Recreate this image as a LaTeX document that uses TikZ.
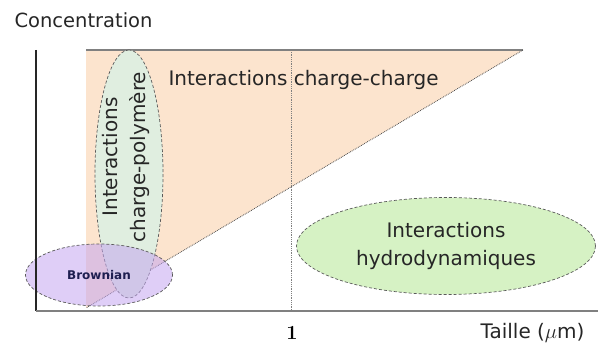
\documentclass[tikz,border=0pt]{standalone}
\usepackage{fontspec}
\usepackage{tikz}
\usetikzlibrary{shapes.geometric}
\newfontfamily\verdana{DejaVu Sans}
\definecolor{zonepeach}{RGB}{252, 228, 206}
\definecolor{zonegrey}{RGB}{224, 238, 224}
\definecolor{zonegreen}{RGB}{214, 242, 196}
\definecolor{zonepurple}{RGB}{196, 166, 240}
\definecolor{labelnavy}{RGB}{30, 30, 80}

\begin{document}
\begin{tikzpicture}[
    x=1pt, y=-1pt,
    zone/.style={ellipse, draw=black!65, dash pattern=on 3pt off 2pt, line width=0.7pt, fill=#1, inner sep=0pt, align=center},
    every node/.style={font=\verdana\fontsize{20}{28}\selectfont, text=black!85}
]
\useasboundingbox (0, 0) rectangle (598, 345);

% Charge-charge region
\fill[zonepeach] (86, 50) -- (523, 50) -- (86, 308) -- cycle;
\draw[gray, line width=1.6pt] (86, 50) -- (523, 50);
\draw[black!70, densely dotted, line width=0.8pt] (523, 50) -- (86, 308);
\draw[gray, densely dotted, line width=0.8pt] (291, 50) -- (291, 311);

% Zones
\node[zone=zonegrey, rotate=90, minimum width=248pt, minimum height=68pt] (polyzone) at (129, 174) {};
\node[rotate=90, align=center] (polylabel) at (126, 157) {Interactions\\charge-polymère};

\node[zone=zonegreen, minimum width=299pt, minimum height=97pt] (hydrozone) at (446, 246) {Interactions\\hydrodynamiques};

\node[zone=zonepurple, fill opacity=0.55, text opacity=1, minimum width=147pt, minimum height=62pt,
      font=\verdana\bfseries\fontsize{12}{14}\selectfont, text=labelnavy] (brownzone) at (99, 275) {Brownian};

\node[anchor=west] (chargelabel) at (165, 80) {Interactions charge-charge};

% Axes
\draw[black!85, line width=1.1pt] (36, 50) -- (36, 311);
\draw[gray, line width=2pt] (36, 311) -- (598, 311);

\node[anchor=west, font=\verdana\fontsize{19.5}{24}\selectfont] (ylabel) at (11, 20) {Concentration};
\node[anchor=east] (xlabel) at (588, 333) {Taille ($\mu$m)};
\node[font=\rmfamily\bfseries\fontsize{20}{22}\selectfont, text=black] (onelabel) at (292, 333) {1};

\end{tikzpicture}
\end{document}
